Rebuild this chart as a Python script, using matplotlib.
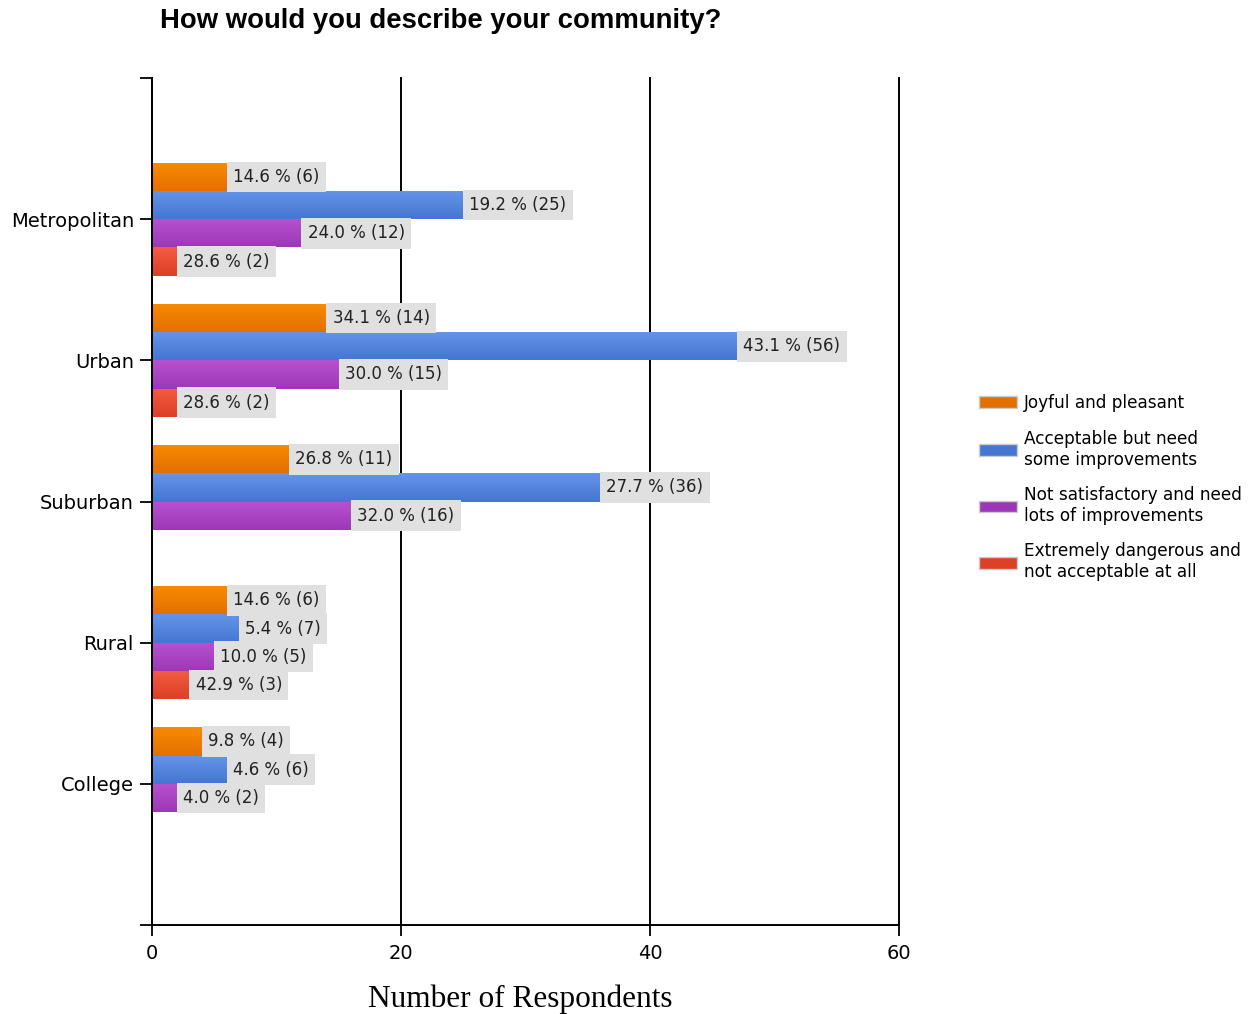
import numpy as np
import matplotlib.pyplot as plt
from matplotlib.colors import LinearSegmentedColormap

# Data
categories = ['Metropolitan', 'Urban', 'Suburban', 'Rural', 'College']
series = ['Joyful and pleasant',
          'Acceptable but need\nsome improvements',
          'Not satisfactory and need\nlots of improvements',
          'Extremely dangerous and\nnot acceptable at all']

# bar lengths as drawn (number of respondents)
joyful = [6, 14, 11, 6, 4]
acceptable = [25, 47, 36, 7, 6]
not_satisfactory = [12, 15, 16, 5, 2]
dangerous = [2, 2, 0, 3, 0]

# label texts shown next to each bar
joyful_lbl = ['14.6 % (6)', '34.1 % (14)', '26.8 % (11)', '14.6 % (6)', '9.8 % (4)']
acceptable_lbl = ['19.2 % (25)', '43.1 % (56)', '27.7 % (36)', '5.4 % (7)', '4.6 % (6)']
not_satisfactory_lbl = ['24.0 % (12)', '30.0 % (15)', '32.0 % (16)', '10.0 % (5)', '4.0 % (2)']
dangerous_lbl = ['28.6 % (2)', '28.6 % (2)', '', '42.9 % (3)', '']

values = [joyful, acceptable, not_satisfactory, dangerous]
labels = [joyful_lbl, acceptable_lbl, not_satisfactory_lbl, dangerous_lbl]

# (top colour, bottom colour) of each gradient bar
colors = [('#f88c00', '#e27000'),
          ('#6595e8', '#4476d2'),
          ('#b951cf', '#9c38b8'),
          ('#f45c42', '#dc4026')]

fig = plt.figure(figsize=(12.54, 10.14), dpi=100)
ax = fig.add_axes([0.1212, 0.0878, 0.5957, 0.8352])

bar_h = 0.2
y = np.arange(len(categories))

for i, (vals, lbls, (c_top, c_bot)) in enumerate(zip(values, labels, colors)):
    cmap = LinearSegmentedColormap.from_list('g%d' % i, [c_top, c_bot])
    for j, (v, lbl) in enumerate(zip(vals, lbls)):
        if v == 0:
            continue
        yc = y[j] + (i - 1.5) * bar_h
        bar = ax.barh(yc, v, height=bar_h, color=c_bot, edgecolor='none', zorder=3,
                      label=series[i] if j == 0 else None)[0]
        grad = np.linspace(0, 1, 50).reshape(-1, 1)
        im = ax.imshow(grad, cmap=cmap, aspect='auto', zorder=3.1,
                       extent=[0, v, yc + bar_h / 2, yc - bar_h / 2])
        im.set_clip_path(bar)
        ax.annotate(lbl, xy=(v, yc), xytext=(4.5, 0), textcoords='offset points',
                    ha='left', va='center', fontsize=12, color='#222222', zorder=4,
                    bbox=dict(boxstyle='square,pad=0.38', fc='#e0e0e0', ec='none'))

ax.set_xlim(0, 60)
ax.set_ylim(5, -1)
ax.set_xticks([0, 20, 40, 60])
ax.set_xticklabels(['0', '20', '40', '60'], fontsize=14)
ax.set_yticks([-1, 0, 1, 2, 3, 4, 5])
ax.set_yticklabels([''] + categories + [''], fontsize=14)
ax.tick_params(axis='y', length=9, width=1.3, pad=4)
ax.tick_params(axis='x', length=8, width=1.3, pad=6)
ax.grid(axis='x', color='black', linewidth=1.4, zorder=1)
for gl in ax.get_xgridlines():
    gl.set_clip_on(False)
ax.set_axisbelow(True)
for s in ['top', 'right']:
    ax.spines[s].set_visible(False)
for s in ['left', 'bottom']:
    ax.spines[s].set_linewidth(1.4)
    ax.spines[s].set_zorder(5)

ax.set_xlabel('Number of Respondents', family='Liberation Serif', fontsize=22.5)
ax.xaxis.set_label_coords(0.493, -0.07)
fig.text(0.1275, 0.979, 'How would you describe your community?', fontsize=19.8,
         fontweight='bold', family='Liberation Sans', ha='left', va='center')

handles, leg_labels = ax.get_legend_handles_labels()
leg = fig.legend(handles, leg_labels, loc='center left', bbox_to_anchor=(0.781, 0.519),
                 frameon=False, prop={'size': 12.2}, handlelength=2.2, handleheight=0.7,
                 handletextpad=0.45, labelspacing=1.03, borderpad=0, borderaxespad=0)
for h in leg.legend_handles:
    h.set_edgecolor('#cccccc')

fig.savefig('out.png', dpi=100)
